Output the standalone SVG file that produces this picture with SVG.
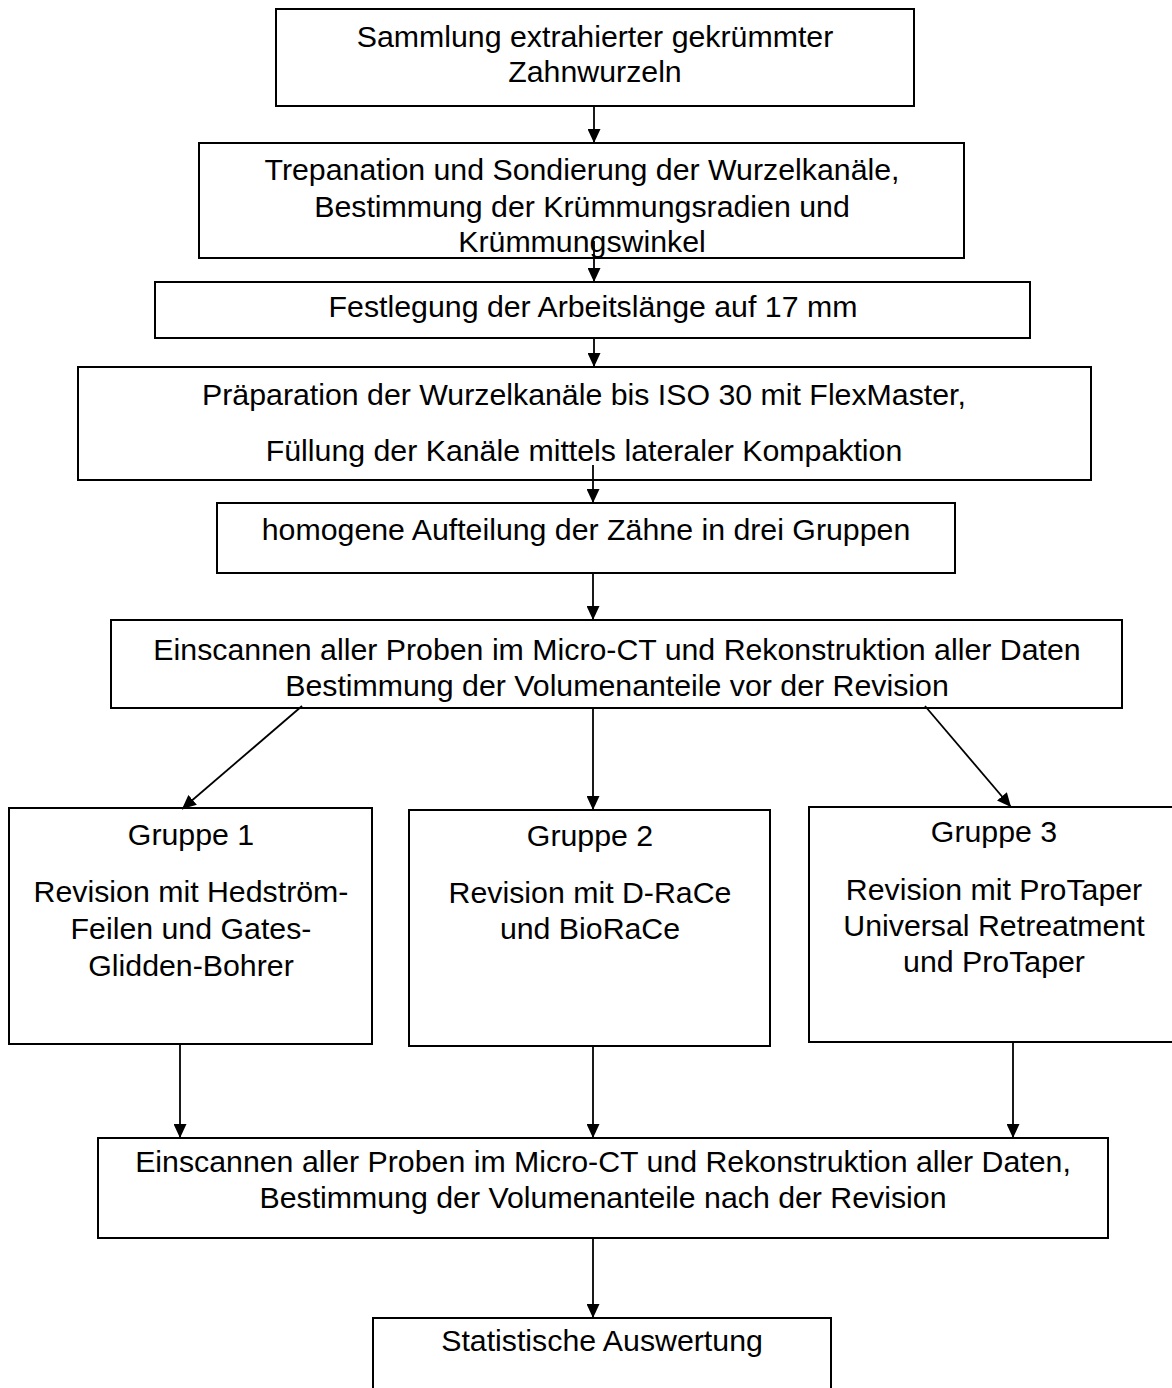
<svg xmlns="http://www.w3.org/2000/svg" width="1172" height="1388" viewBox="0 0 1172 1388">
<style>
.box{fill:#fff;stroke:#000;stroke-width:2}
.t{font-family:"Liberation Sans",Arial,sans-serif;font-size:30.3px;fill:#000;text-anchor:middle}
.c{stroke:#000;stroke-width:1.8;fill:none;marker-end:url(#ah)}
</style>
<defs>
<marker id="ah" markerUnits="userSpaceOnUse" markerWidth="14" markerHeight="13" refX="14" refY="6.5" orient="auto">
<path d="M0,0 L14,6.5 L0,13 z" fill="#000"/>
</marker>
</defs>
<rect width="1172" height="1388" fill="#fff"/>
<g id="n1"><rect class="box" x="276" y="9" width="638" height="97"/>
<text class="t" x="595" y="47">Sammlung extrahierter gekrümmter</text>
<text class="t" x="595" y="82">Zahnwurzeln</text></g>
<g id="n2"><rect class="box" x="199" y="143" width="765" height="115"/>
<text class="t" x="582" y="180">Trepanation und Sondierung der Wurzelkanäle,</text>
<text class="t" x="582" y="217">Bestimmung der Krümmungsradien und</text>
<text class="t" x="582" y="252">Krümmungswinkel</text></g>
<g id="n3"><rect class="box" x="155" y="282" width="875" height="56"/>
<text class="t" x="593" y="317">Festlegung der Arbeitslänge auf 17 mm</text></g>
<g id="n4"><rect class="box" x="78" y="367" width="1013" height="113"/>
<text class="t" x="584" y="405">Präparation der Wurzelkanäle bis ISO 30 mit FlexMaster,</text>
<text class="t" x="584" y="461">Füllung der Kanäle mittels lateraler Kompaktion</text></g>
<g id="n5"><rect class="box" x="217" y="503" width="738" height="70"/>
<text class="t" x="586" y="540">homogene Aufteilung der Zähne in drei Gruppen</text></g>
<g id="n6"><rect class="box" x="111" y="620" width="1011" height="88"/>
<text class="t" x="617" y="660">Einscannen aller Proben im Micro-CT und Rekonstruktion aller Daten</text>
<text class="t" x="617" y="696">Bestimmung der Volumenanteile vor der Revision</text></g>
<g id="g1"><rect class="box" x="9" y="808" width="363" height="236"/>
<text class="t" x="191" y="845">Gruppe 1</text>
<text class="t" x="191" y="902">Revision mit Hedström-</text>
<text class="t" x="191" y="939">Feilen und Gates-</text>
<text class="t" x="191" y="976">Glidden-Bohrer</text></g>
<g id="g2"><rect class="box" x="409" y="810" width="361" height="236"/>
<text class="t" x="590" y="846">Gruppe 2</text>
<text class="t" x="590" y="903">Revision mit D-RaCe</text>
<text class="t" x="590" y="939">und BioRaCe</text></g>
<g id="g3"><rect class="box" x="809" y="807" width="370" height="235"/>
<text class="t" x="994" y="842">Gruppe 3</text>
<text class="t" x="994" y="900">Revision mit ProTaper</text>
<text class="t" x="994" y="936">Universal Retreatment</text>
<text class="t" x="994" y="972">und ProTaper</text></g>
<g id="n7"><rect class="box" x="98" y="1138" width="1010" height="100"/>
<text class="t" x="603" y="1172">Einscannen aller Proben im Micro-CT und Rekonstruktion aller Daten,</text>
<text class="t" x="603" y="1208">Bestimmung der Volumenanteile nach der Revision</text></g>
<g id="n8"><rect class="box" x="373" y="1318" width="458" height="80"/>
<text class="t" x="602" y="1351">Statistische Auswertung</text></g>
<g id="connectors">
<line class="c" x1="594" y1="106" x2="594" y2="143"/>
<line class="c" x1="594" y1="241" x2="594" y2="282"/>
<line class="c" x1="594" y1="338" x2="594" y2="367"/>
<line class="c" x1="593" y1="465" x2="593" y2="503"/>
<line class="c" x1="593" y1="573" x2="593" y2="620"/>
<line class="c" x1="302" y1="706" x2="182" y2="809"/>
<line class="c" x1="593" y1="708" x2="593" y2="810"/>
<line class="c" x1="925" y1="706" x2="1011" y2="807"/>
<line class="c" x1="180" y1="1044" x2="180" y2="1138"/>
<line class="c" x1="593" y1="1046" x2="593" y2="1138"/>
<line class="c" x1="1013" y1="1042" x2="1013" y2="1138"/>
<line class="c" x1="593" y1="1238" x2="593" y2="1318"/>
</g>
</svg>
